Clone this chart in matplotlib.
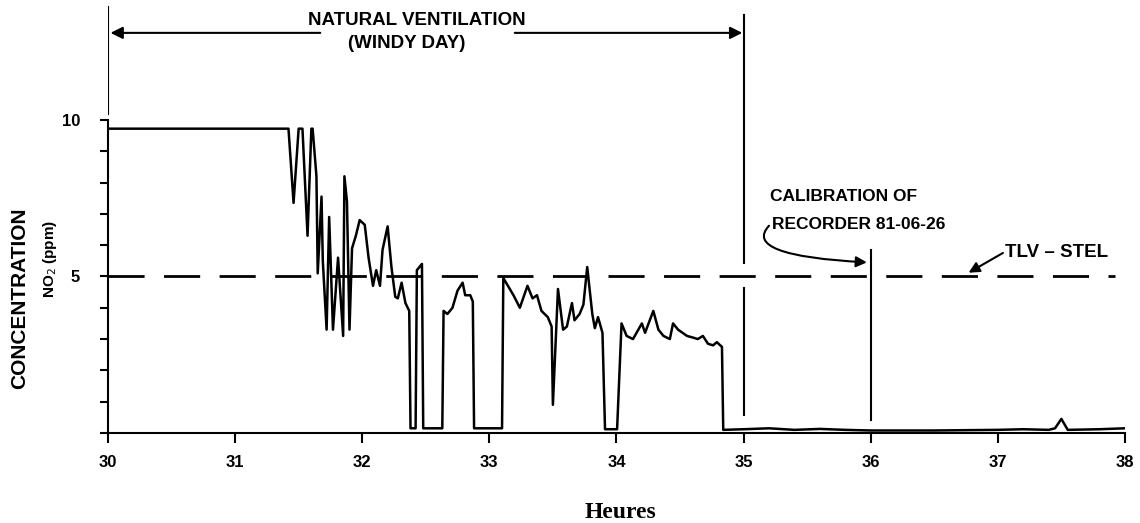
import matplotlib.pyplot as plt

# recorder trace (hours, NO2 ppm)
hours = [30.0, 31.42, 31.46, 31.50, 31.53, 31.57, 31.60, 31.61, 31.64, 31.65,
         31.68, 31.69, 31.72, 31.74, 31.77, 31.81, 31.85, 31.86, 31.88, 31.90,
         31.92, 31.95, 31.98, 32.02, 32.05, 32.085, 32.11, 32.14, 32.16, 32.20,
         32.23, 32.26, 32.28, 32.31, 32.34, 32.37, 32.38, 32.42, 32.43, 32.47,
         32.48, 32.63, 32.64, 32.67, 32.71, 32.75, 32.79, 32.81, 32.85, 32.87,
         32.88, 33.10, 33.11, 33.19, 33.24, 33.30, 33.34, 33.375, 33.41, 33.46,
         33.49, 33.50, 33.54, 33.58, 33.61, 33.65, 33.67, 33.71, 33.74, 33.77,
         33.81, 33.83, 33.855, 33.89, 33.91, 34.005, 34.04, 34.08, 34.13, 34.20,
         34.225, 34.29, 34.33, 34.37, 34.42, 34.445, 34.485, 34.52, 34.555, 34.60,
         34.64, 34.68, 34.72, 34.76, 34.79, 34.83, 34.84, 35.0, 35.2, 35.4,
         35.6, 35.8, 36.0, 36.5, 37.0, 37.2, 37.4, 37.45, 37.5, 37.55,
         37.8, 38.0]
no2_ppm = [9.72, 9.72, 7.35, 9.72, 9.72, 6.3, 9.72, 9.72, 8.2, 5.1,
           7.55, 5.5, 3.3, 6.9, 3.3, 5.6, 3.1, 8.2, 7.4, 3.3,
           5.9, 6.3, 6.8, 6.65, 5.6, 4.7, 5.2, 4.7, 5.85, 6.6,
           5.3, 4.35, 4.3, 4.8, 4.15, 3.9, 0.15, 0.15, 5.2, 5.4,
           0.15, 0.15, 3.9, 3.8, 4.0, 4.55, 4.8, 4.4, 4.4, 4.2,
           0.15, 0.15, 4.95, 4.4, 4.0, 4.7, 4.3, 4.4, 3.9, 3.7,
           3.4, 0.9, 4.6, 3.3, 3.4, 4.15, 3.6, 3.8, 4.1, 5.3,
           3.8, 3.35, 3.7, 3.2, 0.12, 0.12, 3.5, 3.1, 3.0, 3.5,
           3.2, 3.9, 3.3, 3.1, 3.0, 3.5, 3.3, 3.2, 3.1, 3.05,
           3.0, 3.1, 2.85, 2.8, 2.9, 2.75, 0.1, 0.12, 0.15, 0.1,
           0.13, 0.1, 0.08, 0.08, 0.1, 0.12, 0.1, 0.15, 0.45, 0.1,
           0.12, 0.15]

tlv_stel = 5
y_ticks = list(range(11))
y_tick_labels = ['', '', '', '', '', '5', '', '', '', '', '10']
x_ticks = list(range(30, 39))

ann_font = ['Liberation Sans', 'DejaVu Sans']

fig = plt.figure(figsize=(11.4, 5.23), dpi=100)
ax = fig.add_axes([0.0947, 0.1721, 0.8921, 0.8279])

ax.plot(hours, no2_ppm, color='black', lw=1.8, zorder=3)
ax.plot([30, 37.92], [tlv_stel, tlv_stel], color='black', lw=2,
        linestyle=(0, (13, 7)), zorder=2)

# event markers
ax.plot([30, 30], [10.2, 13.6], color='black', lw=1.5)
ax.plot([35, 35], [5.43, 13.35], color='black', lw=1.5)
ax.plot([35, 35], [0.57, 4.63], color='black', lw=1.5)
ax.plot([36, 36], [0.4, 5.85], color='black', lw=1.5)

arrow = dict(arrowstyle='-|>', color='black', lw=1.5, mutation_scale=18,
             shrinkA=0, shrinkB=0)
ax.annotate('', xy=(30.02, 12.78), xytext=(31.67, 12.78), arrowprops=arrow)
ax.annotate('', xy=(34.99, 12.78), xytext=(33.2, 12.78), arrowprops=arrow)
ax.text(32.43, 13.16, 'NATURAL VENTILATION', ha='center', va='center',
        fontsize=13.5, fontweight='bold', family=ann_font)
ax.text(32.35, 12.43, '(WINDY DAY)', ha='center', va='center',
        fontsize=13.5, fontweight='bold', family=ann_font)

ax.text(35.21, 7.54, 'CALIBRATION OF', ha='left', va='center',
        fontsize=12.5, fontweight='bold', family=ann_font)
ax.text(35.22, 6.65, 'RECORDER 81-06-26', ha='left', va='center',
        fontsize=12.5, fontweight='bold', family=ann_font)
ax.annotate('', xy=(35.97, 5.45), xytext=(35.2, 6.62),
            arrowprops=dict(arrowstyle='-|>', color='black', lw=1.5,
                            mutation_scale=16, shrinkA=0, shrinkB=0,
                            connectionstyle='angle3,angleA=47,angleB=-3'))
ax.text(37.06, 5.75, 'TLV \u2013 STEL', ha='left', va='center',
        fontsize=13.5, fontweight='bold', family=ann_font)
ax.annotate('', xy=(36.77, 5.12), xytext=(37.04, 5.75),
            arrowprops=dict(arrowstyle='-|>', color='black', lw=1.5,
                            mutation_scale=16, shrinkA=0, shrinkB=0))

ax.set_xlim(30, 38)
ax.set_ylim(0, 13.83)
ax.spines['top'].set_visible(False)
ax.spines['right'].set_visible(False)
ax.spines['left'].set_bounds(0, 10)
ax.spines['left'].set_linewidth(1.5)
ax.spines['bottom'].set_linewidth(1.5)

ax.set_xticks(x_ticks)
ax.set_xticklabels([str(t) for t in x_ticks], family=ann_font, fontsize=12,
                   fontweight='bold')
ax.set_yticks(y_ticks)
ax.set_yticklabels(y_tick_labels, family=ann_font, fontsize=12, fontweight='bold')
ax.tick_params(axis='x', length=7, width=1.5, pad=9)
ax.tick_params(axis='y', length=6, width=1.5, pad=14)

fig.text(0.017, 0.43, 'CONCENTRATION', rotation=90, ha='center', va='center',
         fontsize=15, fontweight='bold', family=ann_font)
fig.text(0.044, 0.505, 'NO$_2$ (ppm)', rotation=90, ha='center', va='center',
         fontsize=11, fontweight='bold', family=ann_font)
fig.text(0.544, 0.021, 'Heures', ha='center', va='center',
         fontsize=17, fontweight='bold', family=['Liberation Serif', 'DejaVu Serif'])

fig.savefig('out.png', dpi=100)
